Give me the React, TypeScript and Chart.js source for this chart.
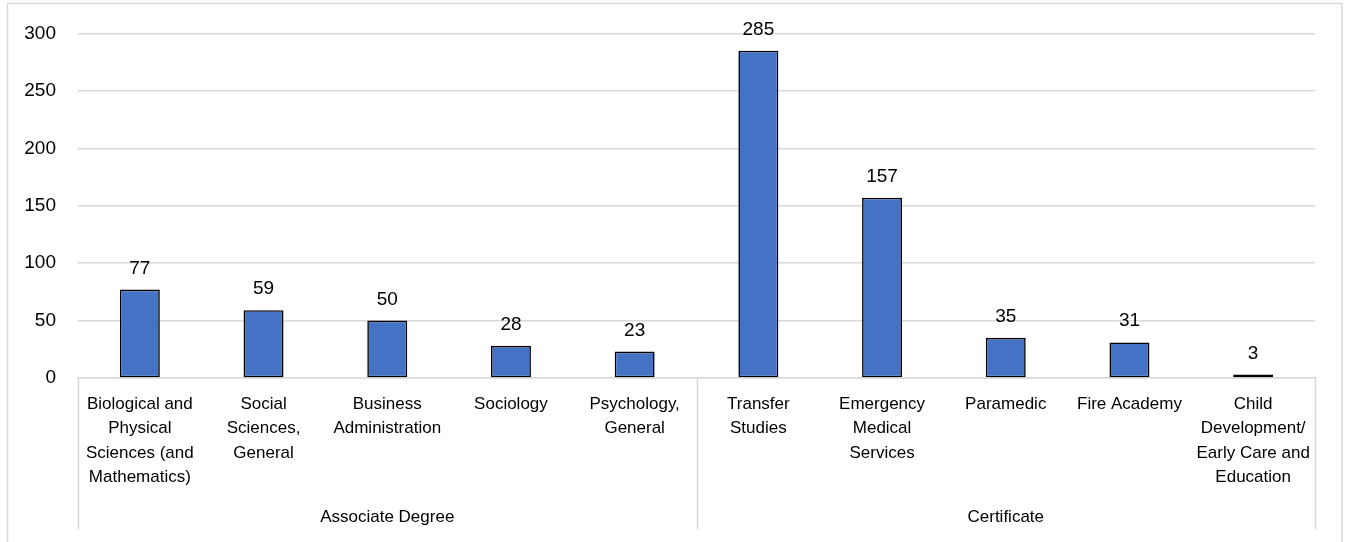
import React, { useEffect, useRef } from 'react';
import { Chart, registerables } from 'chart.js';

Chart.register(...registerables);

const categories: string[][] = [
  ['Biological and', 'Physical', 'Sciences (and', 'Mathematics)'],
  ['Social', 'Sciences,', 'General'],
  ['Business', 'Administration'],
  ['Sociology'],
  ['Psychology,', 'General'],
  ['Transfer', 'Studies'],
  ['Emergency', 'Medical', 'Services'],
  ['Paramedic'],
  ['Fire Academy'],
  ['Child', 'Development/', 'Early Care and', 'Education'],
];
const groupLabels: string[] = ['Associate Degree', 'Certificate'];
const groupSizes: number[] = [5, 5];
const values: number[] = [77, 59, 50, 28, 23, 285, 157, 35, 31, 3];
const yMin = 0;
const yMax = 300;
const yStep = 50;

const FONT = "'Liberation Sans', Arial, sans-serif";
const GRID = '#d9d9d9';

const decorPlugin = {
  id: 'decor',
  beforeDraw(chart: any) {
    const ctx = chart.ctx;
    ctx.save();
    ctx.strokeStyle = GRID;
    ctx.lineWidth = 1.5;
    ctx.strokeRect(7.5, 3.5, chart.width - 14.5, chart.height + 20);
    ctx.restore();
  },
  afterDatasetsDraw(chart: any) {
    const ctx = chart.ctx;
    const meta = chart.getDatasetMeta(0);
    ctx.save();
    ctx.fillStyle = '#000';
    ctx.font = `19px ${FONT}`;
    ctx.textAlign = 'center';
    ctx.textBaseline = 'alphabetic';
    meta.data.forEach((bar: any, i: number) => {
      ctx.fillText(String(values[i]), bar.x, bar.y - 16);
    });
    ctx.restore();
  },
  afterDraw(chart: any) {
    const ctx = chart.ctx;
    const xs = chart.scales.x;
    const area = chart.chartArea;
    const bottom = 529;
    ctx.save();
    ctx.strokeStyle = GRID;
    ctx.lineWidth = 1.5;
    const seps: number[] = [xs.left];
    let idx = 0;
    const centers: number[] = [];
    groupSizes.forEach((n) => {
      const start = idx;
      const end = idx + n - 1;
      const l = start === 0 ? xs.left : (xs.getPixelForValue(start - 1) + xs.getPixelForValue(start)) / 2;
      const r = end === values.length - 1 ? xs.right : (xs.getPixelForValue(end) + xs.getPixelForValue(end + 1)) / 2;
      centers.push((l + r) / 2);
      seps.push(r);
      idx += n;
    });
    seps.forEach((x) => {
      ctx.beginPath();
      ctx.moveTo(Math.round(x) + 0.5, area.bottom);
      ctx.lineTo(Math.round(x) + 0.5, bottom);
      ctx.stroke();
    });
    ctx.fillStyle = '#000';
    ctx.font = `17px ${FONT}`;
    ctx.textAlign = 'center';
    ctx.textBaseline = 'middle';
    groupLabels.forEach((g, i) => {
      ctx.fillText(g, centers[i], 517);
    });
    ctx.restore();
  },
};

export default function App() {
  const ref = useRef<HTMLCanvasElement | null>(null);
  useEffect(() => {
    if (!ref.current) return;
    const chart = new Chart(ref.current, {
      type: 'bar',
      data: {
        labels: categories as any,
        datasets: [
          {
            data: values,
            backgroundColor: '#4472C4',
            borderColor: '#000000',
            borderWidth: 1.6,
            borderSkipped: false,
            barPercentage: 1,
            categoryPercentage: 0.323,
          },
        ],
      },
      options: {
        responsive: false,
        animation: false,
        layout: { padding: { left: 0, right: 34, top: 32, bottom: 0 } },
        plugins: {
          legend: { display: false },
          tooltip: { enabled: false },
          title: { display: false },
        },
        scales: {
          x: {
            offset: true,
            grid: { display: false },
            border: { display: true, color: GRID, width: 1.5 },
            ticks: {
              color: '#000',
              font: { family: FONT, size: 17, lineHeight: 1.44 },
              padding: 6,
              maxRotation: 0,
              autoSkip: false,
            },
            afterFit(scale: any) {
              scale.height = 164;
            },
          },
          y: {
            min: yMin,
            max: yMax,
            grid: { color: GRID, lineWidth: 1.5, drawTicks: false },
            border: { display: false },
            ticks: {
              stepSize: yStep,
              color: '#000',
              font: { family: FONT, size: 19 },
              padding: 22,
            },
            afterFit(scale: any) {
              scale.width = 78;
            },
          },
        },
      },
      plugins: [decorPlugin],
    });
    return () => chart.destroy();
  }, []);
  return (
    <div style={{ position: 'fixed', left: 0, top: 0, width: 1349, height: 542, background: '#fff' }}>
      <canvas ref={ref} width={1349} height={542} style={{ display: 'block' }} />
    </div>
  );
}
